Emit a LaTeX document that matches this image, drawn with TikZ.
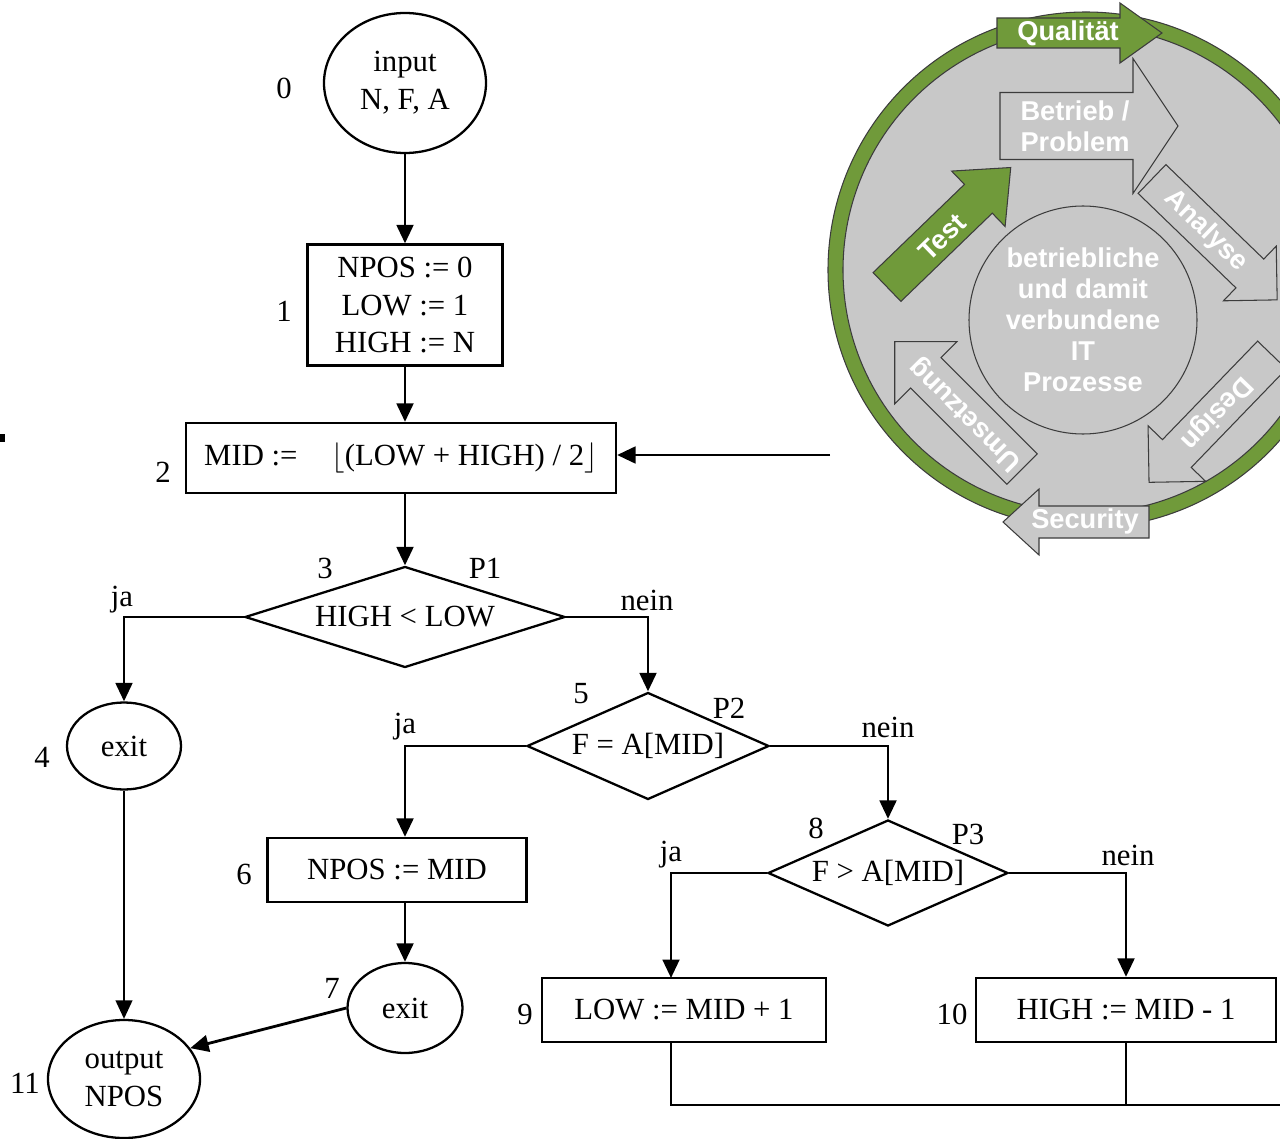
\documentclass[tikz,border=0pt]{standalone}
\usepackage{fontspec}
\setmainfont{Liberation Serif}
\newfontfamily\cyclefont{Liberation Sans}
\usetikzlibrary{arrows.meta,positioning,shapes.geometric}

\definecolor{ringgreen}{RGB}{112,154,58}
\definecolor{cyclegray}{RGB}{200,200,200}
\definecolor{edgegray}{RGB}{60,60,60}

% block arrow: style, tail, angle, length, body width, head width, head length
\newcommand{\blockarrow}[7]{%
  \begin{scope}[shift={#2}, rotate=#3]
    \draw[#1] (0,-#5/2) -- (#4-#7,-#5/2) -- (#4-#7,-#6/2) -- (#4,0)
      -- (#4-#7,#6/2) -- (#4-#7,#5/2) -- (0,#5/2) -- cycle;
  \end{scope}}

\begin{document}
\begin{tikzpicture}[
    x=0.2mm, y=-0.2mm,
    box/.style={draw, line width=1.3pt, inner sep=0pt, align=center},
    term/.style={draw, ellipse, line width=1.3pt, inner sep=0pt, align=center},
    test/.style={draw, diamond, line width=1.3pt, inner sep=0pt},
    num/.style={inner sep=0pt},
    flow/.style={line width=1.6pt, -{Triangle[length=10.5pt,width=9.5pt]}},
    link/.style={line width=1.6pt},
    grayarrow/.style={fill=cyclegray, draw=edgegray, line width=0.6pt},
    greenarrow/.style={fill=ringgreen, draw=edgegray, line width=0.6pt},
    cycletext/.style={text=white, inner sep=0pt, align=center,
      font=\cyclefont\bfseries\fontsize{15.5}{17.6}\selectfont},
    font=\fontsize{17.5}{21.6}\selectfont
]
\useasboundingbox (0,0) rectangle (1280,1139);
\clip (0,0) rectangle (1280,1139);

% flowchart
\node[term, minimum width=32.4mm, minimum height=28mm] (n0) at (405,83) {input\\N, F, A};
\node[box, minimum width=39mm, minimum height=24.2mm] (n1) at (405,305) {NPOS := 0\\LOW := 1\\HIGH := N};
\node[box, minimum width=86mm, minimum height=14mm] (n2) at (401,458)
  {MID :=\hspace{1.1em}$\Big\lfloor$(LOW + HIGH) / 2$\rfloor$};
\node[test, aspect=3.2, minimum width=64mm, minimum height=20.2mm] (n3) at (405,617) {HIGH < LOW};
\node[term, minimum width=22.8mm, minimum height=17.4mm] (n4) at (124,746) {exit};
\node[test, aspect=2.26, minimum width=48.4mm, minimum height=21.4mm] (n5) at (648,746) {F = A[MID]};
\node[box, minimum width=51.8mm, minimum height=12.8mm] (n6) at (397,870) {NPOS := MID};
\node[term, minimum width=23mm, minimum height=18mm] (n7) at (405,1008) {exit};
\node[test, aspect=2.26, minimum width=48mm, minimum height=21.2mm] (n8) at (888,873) {F > A[MID]};
\node[box, minimum width=56.8mm, minimum height=12.8mm] (n9) at (684,1010) {LOW := MID + 1};
\node[box, minimum width=60mm, minimum height=12.8mm] (n10) at (1126,1010) {HIGH := MID - 1};
\node[term, minimum width=30.4mm, minimum height=23.6mm] (n11) at (124,1079) {output\\NPOS};

% step numbers
\node[num] (l0) at (284,88) {0};
\node[num] (l1) at (284,311) {1};
\node[num] (l2) at (163,472) {2};
\node[num] (l3) at (325,568) {3};
\node[num] (p1) at (485,568) {P1};
\node[num] (l4) at (42,757) {4};
\node[num] (l5) at (581,694) {5};
\node[num] (p2) at (729,708) {P2};
\node[num] (l6) at (244,874) {6};
\node[num] (l7) at (332,988) {7};
\node[num] (l8) at (816,828) {8};
\node[num] (p3) at (968,834) {P3};
\node[num] (l9) at (525,1014) {9};
\node[num] (l10) at (952,1014) {10};
\node[num] (l11) at (25,1083) {11};

% branch labels
\node[num] (ja3) at (122,600) {ja};
\node[num] (nein3) at (647,600) {nein};
\node[num] (ja5) at (405,727) {ja};
\node[num] (nein5) at (888,727) {nein};
\node[num] (ja8) at (671,855) {ja};
\node[num] (nein8) at (1128,855) {nein};

% connectors
\coordinate (c9) at (671,978);
\coordinate (loopE) at (1280,1105);
\coordinate (back) at (830,455);
\draw[flow] (n0) -- (n1);
\draw[flow] (n1.south) -- (n1.south |- n2.north);
\draw[flow] (n2.south -| n3.north) -- (n3.north);
\draw[flow] (n3.west) -| (n4.north);
\draw[flow] (n3.east) -| (n5.north);
\draw[flow] (n5.west) -| (n6.north -| n7.north);
\draw[flow] (n5.east) -| (n8.north);
\draw[flow] (n6.south -| n7.north) -- (n7.north);
\draw[flow] (n8.west) -| (c9);
\draw[flow] (n8.east) -| (n10.north);
\draw[flow, line width=1pt] (n4) -- (n11);
\draw[flow] (n7.west) -- (n11.25);
\draw[link] (c9 |- n9.south) |- (loopE);
\draw[line width=0.8pt] (n10.south) -- (n10.south |- loopE);
\draw[flow] (back) -- (back -| n2.east);
\fill (0,434) rectangle (5,442);

% cycle graphic
\fill[ringgreen, draw=edgegray, line width=0.6pt] (1086,270) circle[radius=258];
\fill[cyclegray, draw=edgegray, line width=0.6pt] (1086,270) circle[radius=243];
\node[circle, fill=cyclegray, draw=edgegray, line width=0.6pt, minimum size=45.6mm,
  cycletext] (core) at (1083,320) {betriebliche\\und damit\\verbundene\\IT\\Prozesse};

\blockarrow{greenarrow}{(997,33)}{0}{165}{30}{60}{42}
\blockarrow{grayarrow}{(1000,126)}{0}{178}{67}{135}{45}
\blockarrow{grayarrow}{(1152,179)}{-44}{174}{40}{76}{38}
\blockarrow{grayarrow}{(1272,355)}{-134}{177}{40}{80}{40}
\blockarrow{grayarrow}{(1149,522)}{180}{146}{32}{66}{36}
\blockarrow{grayarrow}{(1022,469)}{135}{180}{43}{88}{44}
\blockarrow{greenarrow}{(887,287)}{44}{172}{40}{77}{45}

\node[cycletext] (qual) at (1068,33) {Qualität};
\node[cycletext] (betr) at (1075,126) {Betrieb /\\Problem};
\node[cycletext, rotate=-44] (anal) at (1206,231) {Analyse};
\node[cycletext, rotate=-134] (desi) at (1216,413) {Design};
\node[cycletext] (secu) at (1085,521) {Security};
\node[cycletext, rotate=135] (umse) at (966,414) {Umsetzung};
\node[cycletext, rotate=44] (test) at (942,237) {Test};
\end{tikzpicture}
\end{document}
